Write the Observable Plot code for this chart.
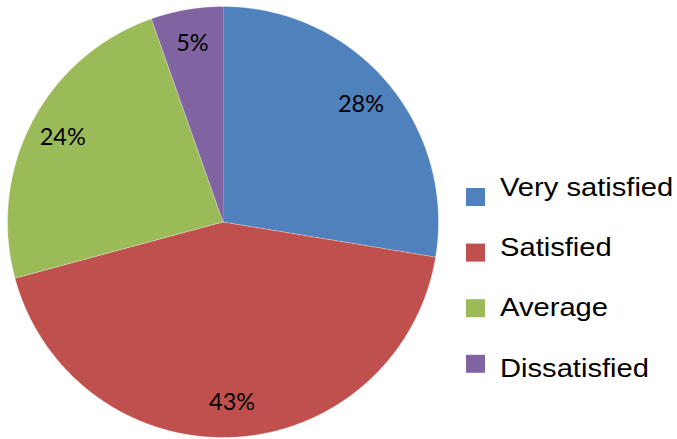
<!DOCTYPE html>
<html>
<head>
<meta charset="utf-8">
<script src="https://cdn.jsdelivr.net/npm/d3@7"></script>
<script src="https://cdn.jsdelivr.net/npm/@observablehq/plot@0.6"></script>
<style>
  html, body { margin: 0; padding: 0; background: #fff; }
  #wrap { position: relative; width: 677px; height: 439px; overflow: hidden; }
  #wrap > svg { position: absolute; left: 0; top: 0; }
</style>
</head>
<body>
<div id="wrap"></div>
<script>
const categories = ["Very satisfied", "Satisfied", "Average", "Dissatisfied"];
const values = [27.6, 43.2, 23.8, 5.4];
const labels = ["28%", "43%", "24%", "5%"];
const colors = ["#4F81BD", "#C0504D", "#9BBB59", "#8064A2"];

const arcs = d3.pie().sort(null).value(d => d)(values).map((a, i) => ({
  ...a, category: categories[i], label: labels[i], mid: (a.startAngle + a.endAngle) / 2
}));

// polygon points for each slice (unit circle, y up)
const pts = [];
for (const a of arcs) {
  pts.push({category: a.category, x: 0, y: 0});
  const n = Math.max(2, Math.ceil((a.endAngle - a.startAngle) / 0.005));
  for (let k = 0; k <= n; k++) {
    const t = a.startAngle + (a.endAngle - a.startAngle) * k / n;
    pts.push({category: a.category, x: Math.sin(t), y: Math.cos(t)});
  }
}

const plot = Plot.plot({
  width: 677,
  height: 439,
  marginLeft: 7,
  marginRight: 239,
  marginTop: 6,
  marginBottom: 2,
  x: {domain: [-1, 1], axis: null},
  y: {domain: [-1, 1], axis: null},
  color: {domain: categories, range: colors},
  marks: [
    Plot.line(pts, {x: "x", y: "y", z: "category", fill: "category", stroke: "#fff", strokeWidth: 0.6, strokeOpacity: 0.6, curve: "linear"}),
    Plot.text(arcs, {
      x: d => 0.84 * Math.sin(d.mid),
      y: d => 0.84 * Math.cos(d.mid),
      text: "label",
      fontSize: 23.5,
      fontFamily: "Lato",
      fill: "#000"
    })
  ]
});
plot.style.fontFamily = "Lato";
document.getElementById("wrap").appendChild(plot);

// legend
const leg = d3.select("#wrap").append("svg")
  .attr("width", 677).attr("height", 439);
const rows = leg.selectAll("g").data(categories).join("g");
rows.append("rect")
  .attr("x", 466)
  .attr("y", (d, i) => 188 + i * 55.6)
  .attr("width", 19)
  .attr("height", 18)
  .attr("fill", (d, i) => colors[i]);
rows.append("text")
  .attr("transform", (d, i) => `translate(500,${196 + i * 60.2}) scale(1.1,1)`)
  .attr("font-family", "Liberation Sans, Arial, sans-serif")
  .attr("font-size", 26.5)
  .attr("fill", "#000")
  .text(d => d);
</script>
</body>
</html>
